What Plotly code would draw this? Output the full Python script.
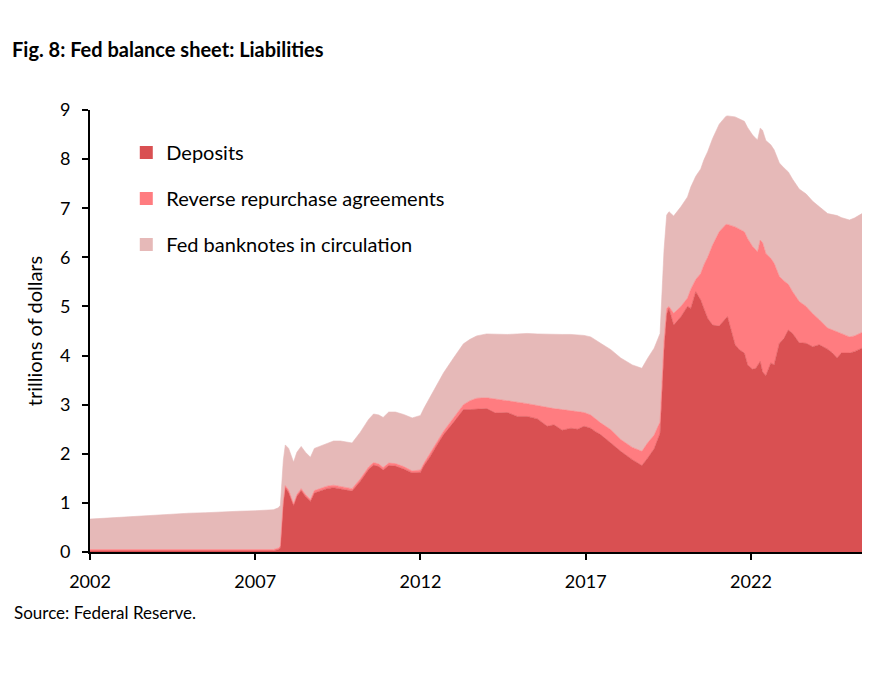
import plotly.graph_objects as go

# Time in (axis) decimal years, as drawn on the reference axis
t = [2002.00, 2002.50, 2003.00, 2003.50, 2004.00, 2004.50, 2005.00, 2005.50, 2006.00, 2006.50,
     2007.00, 2007.30, 2007.55, 2007.70, 2007.76, 2007.85, 2007.91, 2008.01, 2008.16, 2008.26,
     2008.39, 2008.52, 2008.67, 2008.79, 2008.97, 2009.17, 2009.37, 2009.58, 2009.78, 2009.93,
     2010.18, 2010.43, 2010.58, 2010.74, 2010.87, 2011.04, 2011.24, 2011.49, 2011.75, 2012.00,
     2012.10, 2012.30, 2012.50, 2012.70, 2013.00, 2013.30, 2013.50, 2013.70, 2014.00, 2014.27,
     2014.63, 2014.93, 2015.23, 2015.54, 2015.84, 2016.04, 2016.29, 2016.55, 2016.75, 2016.95,
     2017.15, 2017.30, 2017.45, 2017.76, 2018.06, 2018.41, 2018.70, 2018.87, 2019.07, 2019.25,
     2019.37, 2019.45, 2019.52, 2019.66, 2019.88, 2020.08, 2020.18, 2020.33, 2020.48, 2020.58,
     2020.69, 2020.84, 2021.04, 2021.24, 2021.29, 2021.52, 2021.65, 2021.80, 2021.90, 2022.05,
     2022.15, 2022.20, 2022.28, 2022.35, 2022.45, 2022.60, 2022.70, 2022.86, 2023.00, 2023.13,
     2023.26, 2023.46, 2023.67, 2023.87, 2024.07, 2024.32, 2024.47, 2024.61, 2024.73, 2024.98,
     2025.13, 2025.36]

deposits = [0.02, 0.02, 0.02, 0.02, 0.02, 0.02, 0.02, 0.02, 0.02, 0.02,
            0.02, 0.02, 0.02, 0.05, 0.08, 1.00, 1.31, 1.21, 0.94, 1.13,
            1.25, 1.13, 1.03, 1.20, 1.25, 1.29, 1.31, 1.28, 1.26, 1.24,
            1.44, 1.68, 1.77, 1.74, 1.67, 1.76, 1.75, 1.69, 1.61, 1.62,
            1.75, 1.95, 2.18, 2.39, 2.64, 2.90, 2.90, 2.91, 2.92, 2.83,
            2.84, 2.76, 2.76, 2.71, 2.56, 2.59, 2.48, 2.52, 2.50, 2.56,
            2.52, 2.45, 2.39, 2.22, 2.05, 1.88, 1.76, 1.91, 2.10, 2.42,
            4.12, 4.85, 4.96, 4.62, 4.79, 5.00, 4.96, 5.30, 5.13, 4.95,
            4.76, 4.62, 4.60, 4.76, 4.79, 4.22, 4.12, 4.05, 3.81, 3.72,
            3.74, 3.80, 3.88, 3.67, 3.59, 3.85, 3.81, 4.25, 4.35, 4.52,
            4.45, 4.26, 4.25, 4.18, 4.22, 4.13, 4.05, 3.95, 4.05, 4.05,
            4.08, 4.15]

reverse_repos = [0.03, 0.03, 0.03, 0.03, 0.03, 0.03, 0.03, 0.03, 0.03, 0.03,
                 0.03, 0.03, 0.03, 0.03, 0.04, 0.04, 0.04, 0.05, 0.04, 0.04,
                 0.04, 0.04, 0.04, 0.05, 0.05, 0.05, 0.05, 0.05, 0.05, 0.05,
                 0.05, 0.05, 0.05, 0.05, 0.05, 0.05, 0.05, 0.05, 0.04, 0.05,
                 0.05, 0.07, 0.07, 0.07, 0.09, 0.10, 0.18, 0.22, 0.22, 0.28,
                 0.24, 0.29, 0.26, 0.27, 0.38, 0.33, 0.42, 0.36, 0.36, 0.28,
                 0.27, 0.25, 0.24, 0.27, 0.24, 0.25, 0.29, 0.31, 0.28, 0.23,
                 0.18, 0.11, 0.04, 0.24, 0.21, 0.17, 0.39, 0.25, 0.54, 0.90,
                 1.24, 1.63, 1.92, 1.91, 1.88, 2.40, 2.46, 2.47, 2.57, 2.50,
                 2.41, 2.31, 2.47, 2.63, 2.49, 2.13, 2.07, 1.36, 1.17, 0.93,
                 0.85, 0.84, 0.75, 0.67, 0.51, 0.43, 0.47, 0.54, 0.40, 0.33,
                 0.32, 0.32]

banknotes = [0.62, 0.64, 0.67, 0.69, 0.71, 0.72, 0.74, 0.75, 0.77, 0.78,
             0.79, 0.80, 0.81, 0.82, 0.83, 0.83, 0.83, 0.85, 0.85, 0.86,
             0.86, 0.86, 0.86, 0.86, 0.86, 0.88, 0.90, 0.93, 0.93, 0.93,
             0.95, 0.97, 0.99, 1.00, 1.02, 1.04, 1.05, 1.06, 1.08, 1.11,
             1.12, 1.14, 1.17, 1.19, 1.22, 1.24, 1.25, 1.27, 1.30, 1.32,
             1.35, 1.39, 1.43, 1.46, 1.49, 1.51, 1.53, 1.55, 1.56, 1.57,
             1.59, 1.61, 1.62, 1.63, 1.66, 1.68, 1.69, 1.72, 1.77, 1.80,
             1.85, 1.90, 1.93, 1.98, 2.03, 2.06, 2.08, 2.10, 2.13, 2.14,
             2.15, 2.17, 2.19, 2.20, 2.21, 2.24, 2.24, 2.25, 2.26, 2.27,
             2.27, 2.28, 2.28, 2.29, 2.30, 2.31, 2.31, 2.31, 2.30, 2.29,
             2.29, 2.29, 2.29, 2.29, 2.30, 2.33, 2.35, 2.36, 2.36, 2.38,
             2.40, 2.42]

series_names = ["Deposits", "Reverse repurchase agreements", "Fed banknotes in circulation"]
series_colors = ["#D95052", "#FF7C80", "#E6B9B8"]
x_ticks = [2002, 2007, 2012, 2017, 2022]
y_ticks = [0, 1, 2, 3, 4, 5, 6, 7, 8, 9]

FONT = "Lato"

fig = go.Figure()
for name, vals, col in zip(series_names, [deposits, reverse_repos, banknotes], series_colors):
    fig.add_trace(go.Scatter(
        x=t, y=vals, name=name, stackgroup="one", mode="lines",
        line=dict(width=0.6, color=col), fillcolor=col, showlegend=False,
        hoverinfo="x+y+name"))
# legend entries with square swatches
for i, (name, col) in enumerate(zip(series_names, series_colors)):
    fig.add_trace(go.Scatter(
        x=[None], y=[None], mode="markers", name=name, legendgroup=str(i),
        marker=dict(symbol="square", size=13, color=col), showlegend=True))

fig.update_layout(
    width=879, height=674,
    margin=dict(l=90, r=17, t=110, b=122),
    paper_bgcolor="white", plot_bgcolor="white",
    font=dict(family=FONT, color="black"),
    showlegend=True,
    legend=dict(x=0.047, y=0.948, xanchor="left", yanchor="top",
                traceorder="grouped", tracegroupgap=17,
                font=dict(family=FONT, size=20, color="black"),
                bgcolor="rgba(0,0,0,0)", itemclick=False),
    title=dict(text="<b>Fig. 8: Fed balance sheet: Liabilities</b>",
               x=12/879, xref="container", xanchor="left",
               y=1-50/674, yref="container", yanchor="middle",
               font=dict(family=FONT, size=20, color="black")),
    annotations=[dict(text="Source: Federal Reserve.", xref="paper", yref="paper",
                      x=-78/772, y=-61/442.5, xanchor="left", yanchor="middle",
                      showarrow=False, font=dict(family=FONT, size=17, color="black"))],
)

fig.update_xaxes(range=[2002, 2025.36], tickvals=x_ticks, ticktext=[str(v) for v in x_ticks],
                 showgrid=False, zeroline=False, showline=True, linecolor="black", linewidth=2,
                 ticks="outside", ticklen=6, tickwidth=2, tickcolor="black",
                 tickfont=dict(family=FONT, size=18, color="black"), ticklabelstandoff=6)
fig.update_yaxes(range=[0, 9], tickvals=y_ticks, showgrid=False, zeroline=False,
                 showline=True, linecolor="black", linewidth=2,
                 ticks="outside", ticklen=6, tickwidth=2, tickcolor="black",
                 tickfont=dict(family=FONT, size=18, color="black"), ticklabelstandoff=8,
                 title=dict(text="trillions of dollars", font=dict(family=FONT, size=20, color="black"),
                            standoff=12))

fig.write_html("out.html")
